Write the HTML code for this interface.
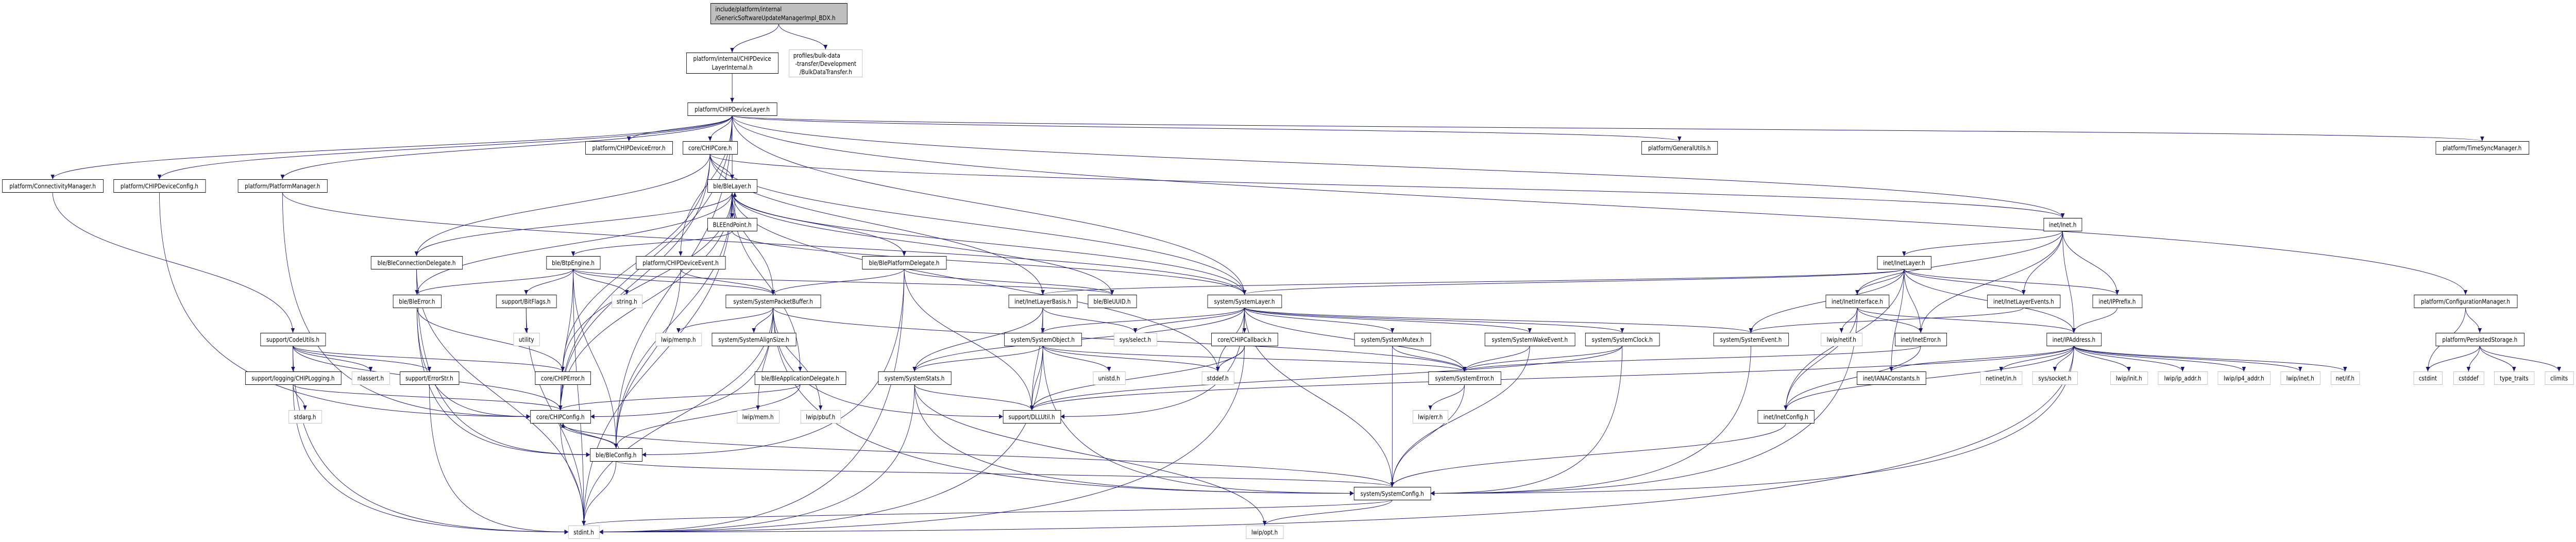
<!DOCTYPE html>
<html><head><meta charset="utf-8"><style>
html,body{margin:0;padding:0;background:#fff;overflow:hidden;}
svg{display:block;width:100vw;height:100vh;}
text{font-family:"DejaVu Sans","Liberation Sans",sans-serif;font-size:12.4px;fill:#000;}
</style></head><body>
<svg id="g" xmlns="http://www.w3.org/2000/svg" viewBox="0 0 5946 1052" preserveAspectRatio="none">
<defs><marker id="a" viewBox="0 0 10 10" refX="10" refY="5" markerWidth="11" markerHeight="9" markerUnits="userSpaceOnUse" orient="auto"><path d="M0,0 L10,5 L0,10 z" fill="#191970"/></marker></defs>
<g id="edges" fill="none" stroke="#191970" stroke-width="1"></g>
<g id="nodes">
<rect x="1640.5" y="6.5" width="315" height="40" fill="#bfbfbf" stroke="#000"/>
<text x="1651" y="22">include/platform/internal</text>
<text x="1651" y="39">/GenericSoftwareUpdateManagerImpl_BDX.h</text>
<rect x="1584.5" y="102.5" width="212" height="40" fill="#fff" stroke="#000"/>
<text x="1690" y="118" text-anchor="middle">platform/internal/CHIPDevice</text>
<text x="1690" y="135" text-anchor="middle">LayerInternal.h</text>
<rect x="1821.5" y="96.5" width="169" height="53" fill="#fff" stroke="#bfbfbf"/>
<text x="1831" y="112">profiles/bulk-data</text>
<text x="1906" y="128" text-anchor="middle">-transfer/Development</text>
<text x="1906" y="144" text-anchor="middle">/BulkDataTransfer.h</text>
</g>
</svg>
<script>
var N={
DL:[1587,199,206,"platform/CHIPDeviceLayer.h"],
DE:[1351,274,201,"platform/CHIPDeviceError.h"],
CC:[1576,274,126,"core/CHIPCore.h"],
GU:[3789,274,175,"platform/GeneralUtils.h"],
TSM:[5622,274,215,"platform/TimeSyncManager.h"],
CM:[5,348,233,"platform/ConnectivityManager.h"],
DC:[262,348,212,"platform/CHIPDeviceConfig.h"],
PM:[549,348,206,"platform/PlatformManager.h"],
BL:[1633,348,114,"ble/BleLayer.h"],
EP:[1633,423,114,"BLEEndPoint.h"],
INET:[4717,423,88,"inet/Inet.h"],
BCD:[856,497,211,"ble/BleConnectionDelegate.h"],
BTP:[1261,497,124,"ble/BtpEngine.h"],
CDE:[1468,497,206,"platform/CHIPDeviceEvent.h"],
BPD:[1990,497,194,"ble/BlePlatformDelegate.h"],
IL:[4333,497,124,"inet/InetLayer.h"],
BE:[907,572,111,"ble/BleError.h"],
BF:[1145,572,139,"support/BitFlags.h"],
STR:[1412,572,70,"string.h",1],
SPB:[1675,572,219,"system/SystemPacketBuffer.h"],
ILB:[2328,572,158,"inet/InetLayerBasis.h"],
UUID:[2511,572,112,"ble/BleUUID.h"],
SL:[2787,572,171,"system/SystemLayer.h"],
II:[4214,572,146,"inet/InetInterface.h"],
ILE:[4587,572,168,"inet/InetLayerEvents.h"],
IPP:[4830,572,114,"inet/IPPrefix.h"],
CFM:[5572,572,238,"platform/ConfigurationManager.h"],
CU:[601,646,150,"support/CodeUtils.h"],
UTIL:[1185,646,60,"utility",1],
MEMP:[1513,646,106,"lwip/memp.h",1],
SAS:[1643,646,194,"system/SystemAlignSize.h"],
SO:[2318,646,178,"system/SystemObject.h"],
SEL:[2571,646,99,"sys/select.h",1],
CB:[2796,646,153,"core/CHIPCallback.h"],
SM:[3126,646,176,"system/SystemMutex.h"],
SWE:[3427,646,208,"system/SystemWakeEvent.h"],
SC:[3659,646,171,"system/SystemClock.h"],
SE:[3955,646,173,"system/SystemEvent.h"],
NETIF:[4203,646,95,"lwip/netif.h",1],
IE:[4374,646,119,"inet/InetError.h"],
IPA:[4724,646,126,"inet/IPAddress.h"],
PS:[5622,646,204,"platform/PersistedStorage.h"],
LOG:[566,721,221,"support/logging/CHIPLogging.h"],
NLA:[812,721,87,"nlassert.h",1],
ES:[923,721,136,"support/ErrorStr.h"],
CE:[1235,721,128,"core/CHIPError.h"],
BAD:[1742,721,210,"ble/BleApplicationDelegate.h"],
SS:[2027,721,168,"system/SystemStats.h"],
UNI:[2523,721,74,"unistd.h",1],
SDEF:[2774,721,74,"stddef.h",1],
SERR:[3297,721,167,"system/SystemError.h"],
IANA:[4286,721,159,"inet/IANAConstants.h"],
NIN:[4571,721,96,"netinet/in.h",1],
SOCK:[4691,721,104,"sys/socket.h",1],
LINIT:[4871,721,86,"lwip/init.h",1],
IPADDR:[4981,721,114,"lwip/ip_addr.h",1],
IP4:[5119,721,121,"lwip/ip4_addr.h",1],
LINET:[5264,721,91,"lwip/inet.h",1],
NETIFH:[5380,721,66,"net/if.h",1],
CSTDINT:[5571,721,66,"cstdint",1],
CSTDDEF:[5663,721,70,"cstddef",1],
TT:[5757,721,92,"type_traits",1],
CLIM:[5874,721,66,"climits",1],
STDARG:[666,796,76,"stdarg.h",1],
CCFG:[1224,796,139,"core/CHIPConfig.h"],
MEM:[1701,796,97,"lwip/mem.h",1],
PBUF:[1848,796,92,"lwip/pbuf.h",1],
DLL:[2315,796,133,"support/DLLUtil.h"],
ERR:[3261,796,81,"lwip/err.h",1],
ICFG:[4057,796,130,"inet/InetConfig.h"],
BCFG:[1362,870,120,"ble/BleConfig.h"],
SCFG:[3125,945,177,"system/SystemConfig.h"],
STDINT:[1312,1020,71,"stdint.h",1],
OPT:[2876,1020,86,"lwip/opt.h",1]
};
N.TOP=[1640,6,315,"",0,40];N.DLI=[1584,102,212,"",0,40];N.BDT=[1821,96,169,"",1,53];
var SINK={STDINT:1,SCFG:1,DLL:1,CCFG:1,BCFG:1,ICFG:1};
var E="TOP DLI,TOP BDT,DLI DL,DL CM,DL DC,DL PM,DL DE,DL CC,DL BL,DL GU,DL TSM,DL CFM,DL INET,DL SL,DL CDE,DL BCFG,DL CCFG,CC BL,CC SL,CC INET,CC CCFG,CC CE,CC BCD,CC ILB,BL EP,BL BCD,BL BE,BL BPD,BL BAD,BL UUID,BL SPB,BL SL,BL BCFG,BL CCFG,BL SDEF,BL STDINT,BL CE,EP BL,EP BTP,EP SL,BCD BE,BCD BCFG,BCD STDINT,BE CCFG,BE CE,BE BCFG,BTP BE,BTP BF,BTP STR,BTP SPB,BTP BCFG,BTP CCFG,BTP UUID,BTP STDINT,BF UTIL,BF STDINT,CDE SPB,CDE BCFG,BPD UUID,BPD BCFG,BPD SPB,BPD DLL,BPD STDINT,SPB MEMP,SPB SAS,SPB MEM,SPB PBUF,SPB SCFG,SPB SERR,SPB DLL,SPB STDINT,SPB CCFG,BAD BCFG,BAD CCFG,CU LOG,CU NLA,CU ES,CU CE,CU CCFG,CU STDINT,LOG STDARG,LOG CCFG,LOG STDINT,ES STDINT,CE CCFG,CCFG BCFG,CCFG STDINT,CCFG SCFG,BCFG CCFG,BCFG STDINT,BCFG SCFG,SL SO,SL SEL,SL CB,SL SM,SL SWE,SL SC,SL SE,SL SERR,SL SCFG,SL DLL,SL SS,SL SDEF,ILB SO,ILB SEL,ILB DLL,ILB SS,SO SS,SO DLL,SO UNI,SO SDEF,SO SERR,SO SCFG,SO STDINT,SS DLL,SS SCFG,SS OPT,SS STDINT,CB SDEF,CB DLL,CB STDINT,SM SERR,SM SCFG,SWE SERR,SWE SCFG,SC SERR,SC SCFG,SC DLL,SE SCFG,SERR ERR,SERR SCFG,SCFG OPT,SCFG STDINT,INET IL,INET II,INET ILE,INET IPP,INET IPA,INET IE,IL II,IL IE,IL IANA,IL ILE,IL IPP,IL IPA,IL ILB,IL SL,IL ICFG,IL SE,II NETIF,II IE,II IPA,II ICFG,II SCFG,IE ICFG,IE SERR,IPA NIN,IPA SOCK,IPA LINIT,IPA IPADDR,IPA IP4,IPA LINET,IPA NETIFH,IPA ICFG,IPA IANA,IPA STDINT,IPA DLL,IPA SCFG,IPP IPA,ICFG SCFG,ILE SE,CFM CSTDINT,CFM PS,PS CSTDINT,PS CSTDDEF,PS TT,PS CLIM,PS IPA,CM CU,DC CCFG,PM CCFG,PM SL";
var ns="http://www.w3.org/2000/svg",eg=document.getElementById("edges"),ng=document.getElementById("nodes");
function H(n){return n[5]||25;}
E.split(",").forEach(function(p){var k=p.split(" "),s=N[k[0]],t=N[k[1]];if(!s||!t)return;
var sx=s[0]+s[2]/2,tx=t[0]+t[2]/2,sy,ty,d;
if(t[1]>s[1]+5){sy=s[1]+H(s);ty=t[1];var dy=ty-sy,dx=tx-sx;
 if(SINK[k[1]]&&dy>140&&Math.abs(dx)>dy*1.2){
  var side=dx>0?t[0]:t[0]+t[2];ty=t[1]+12.5;tx=side;
  d="M"+sx+","+sy+" C"+sx+","+(sy+(ty-sy)*0.8)+" "+(sx+(tx-sx)*0.3)+","+ty+" "+tx+","+ty;
 } else
 d="M"+sx+","+sy+" C"+sx+","+(sy+dy*0.5)+" "+tx+","+(ty-dy*0.5)+" "+tx+","+ty;}
else if(t[1]<s[1]-5){sy=s[1];ty=t[1]+H(t);sx+=6;tx+=6;d="M"+sx+","+sy+" C"+sx+","+(sy-20)+" "+tx+","+(ty+20)+" "+tx+","+ty;}
else{return;}
var e=document.createElementNS(ns,"path");e.setAttribute("d",d);e.setAttribute("marker-end","url(#a)");eg.appendChild(e);});
for(var k in N){var n=N[k];if(!n[3])continue;var r=document.createElementNS(ns,"rect");
r.setAttribute("x",n[0]+.5);r.setAttribute("y",n[1]+.5);r.setAttribute("width",n[2]);r.setAttribute("height",25);
r.setAttribute("fill","#fff");r.setAttribute("stroke",n[4]?"#bfbfbf":"#000");ng.appendChild(r);
var t=document.createElementNS(ns,"text");t.setAttribute("x",n[0]+n[2]/2);t.setAttribute("y",n[1]+17.5);t.setAttribute("text-anchor","middle");t.textContent=n[3];ng.appendChild(t);}
</script>
</body></html>
